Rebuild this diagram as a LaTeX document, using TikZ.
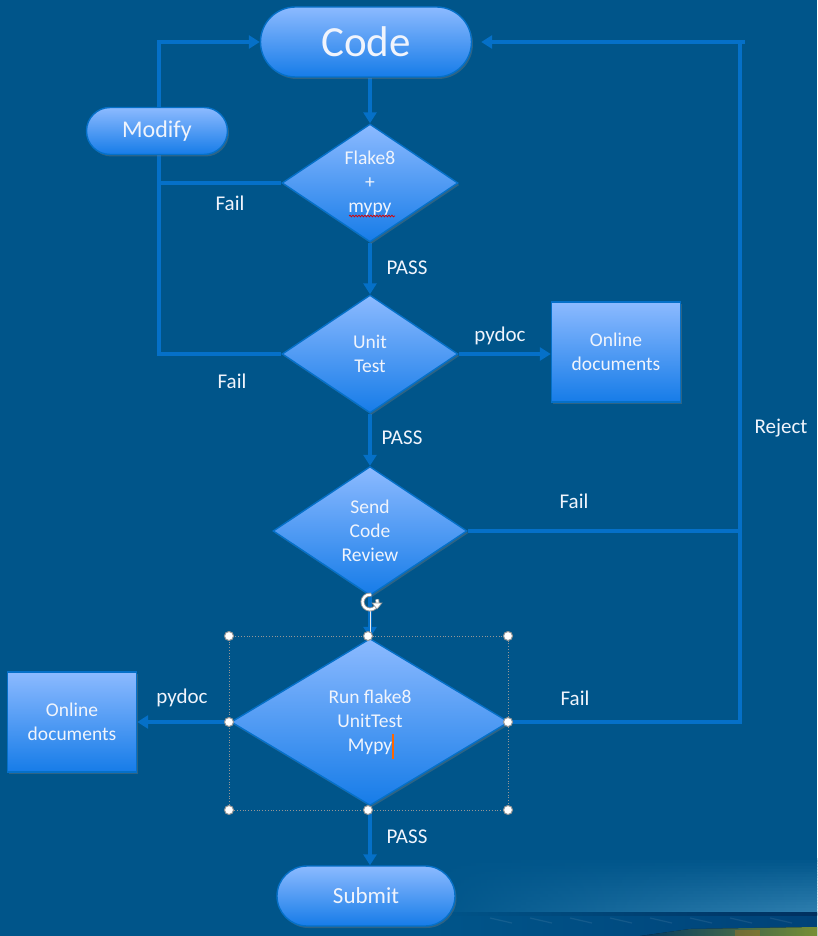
\documentclass[tikz,border=0pt]{standalone}
\usepackage{fontspec}
\setmainfont{Carlito}
\usetikzlibrary{arrows.meta,shapes.geometric,shadows,decorations.pathmorphing}

\definecolor{bgc}{RGB}{0,85,138}
\definecolor{bglight}{RGB}{48,128,176}
\definecolor{bgdark}{RGB}{0,66,120}
\definecolor{bgline}{RGB}{0,48,95}
\definecolor{strip}{RGB}{150,175,60}
\definecolor{linec}{RGB}{5,112,200}
\definecolor{topc}{RGB}{140,186,255}
\definecolor{botc}{RGB}{22,124,232}
\definecolor{txt}{RGB}{240,244,252}
\definecolor{handle}{RGB}{150,150,150}

\pgfdeclarelayer{bg}
\pgfdeclarelayer{lines}
\pgfsetlayers{bg,lines,main}

\tikzset{
  box/.style={draw=linec, line width=1.4pt, top color=topc, bottom color=botc,
    text=txt, align=center,
    drop shadow={opacity=0.35, shadow xshift=1.5pt, shadow yshift=-2pt}},
  term/.style={box, rectangle},
  dia/.style={box, diamond, inner sep=0pt, aspect=1.5,
    font=\fontsize{19.5}{24}\selectfont},
  doc/.style={box, rectangle, font=\fontsize{19.5}{24}\selectfont},
  flow/.style={draw=linec, line width=3.5pt},
  arr/.style={flow, -{Triangle[length=11pt,width=13pt]}},
  lbl/.style={text=txt, font=\fontsize{21}{24}\selectfont, inner sep=0pt},
  handlept/.style={circle, fill=white, draw=handle, line width=1pt, inner sep=0pt, minimum size=9pt},
}

\begin{document}
\begin{tikzpicture}[x=1pt, y=-1pt]
% page background
\begin{pgfonlayer}{bg}
  \fill[bgc] (0,0) rectangle (817,936);
  \useasboundingbox (0,0) rectangle (817,936);
  % soft light sweep near the bottom right, built from thin strips
  \foreach \i in {0,...,19} {
    \pgfmathtruncatemacro{\mix}{\i*5}
    \fill[left color=bgc, right color=bglight!\mix!bgc] (430,{858+2.8*\i}) rectangle (817,{861+2.8*\i});
  }
  % darker horizon band with faint streaks
  \fill[left color=bgc, right color=bgdark] (430,913) rectangle (817,936);
  \fill[left color=bgc, right color=bgline] (430,912.5) rectangle (817,915);
  \foreach \sx in {490,530,570,610,650,690,730,770}
    \draw[white, opacity=0.08, line width=1.2pt] (\sx,918) -- ++(22,5);
  \fill[left color=bgdark, right color=strip, opacity=0.8] (640,936) -- (690,929) -- (817,927) -- (817,936) -- cycle;
  \fill[orange, opacity=0.25] (735,930) rectangle (760,936);
\end{pgfonlayer}

% flow chart nodes
\node[term, minimum width=211pt, minimum height=70pt, rounded corners=35pt,
  font=\fontsize{43}{48}\selectfont] (code) at (366,42) {Code};
\node[term, minimum width=141pt, minimum height=47pt, rounded corners=23.5pt,
  font=\fontsize{24}{28}\selectfont] (modify) at (157,131) {Modify};
\node[dia, minimum width=176pt, minimum height=118pt] (fl) at (370,183) {Flake8\\+\\mypy};
\node[dia, minimum width=176pt, minimum height=118pt] (ut) at (370,354) {Unit\\Test};
\node[doc, minimum width=129pt, minimum height=100pt] (docR) at (616,352) {Online\\documents};
\node[dia, minimum width=194pt, minimum height=129pt] (scr) at (370,531) {Send\\Code\\Review};
\node[dia, minimum width=278pt, minimum height=167pt] (run) at (370,722) {Run flake8\\UnitTest\\Mypy};
\node[doc, minimum width=129pt, minimum height=100pt] (docL) at (72,722) {Online\\documents};
\node[term, minimum width=178pt, minimum height=60pt, rounded corners=30pt,
  font=\fontsize{23}{28}\selectfont] (sub) at (366,896) {Submit};

% routing columns for the loops
\coordinate (lx) at (159,42);
\coordinate (rx) at (740,42);
\coordinate (rtop) at (745,42);

% connectors
\begin{pgfonlayer}{lines}
  \draw[arr] (code.south -| fl.north) -- (fl.north);
  \draw[arr] (fl.south) -- (ut.north);
  \draw[arr] (ut.south) -- (scr.north);
  \draw[arr] (scr.south) -- (run.north);
  \draw[arr] (run.south) -- (run.south |- sub.north);
  \draw[arr] (ut.east) -- (ut.east -| docR.west);
  \draw[arr] (run.west) -- (run.west -| docL.east);
  \draw[flow] (fl.west) -- (fl.west -| lx);
  \draw[arr] (ut.west) -- (ut.west -| lx) |- (code.west);
  \draw[flow] (scr.east) -- (scr.east -| rx);
  \draw[arr, shorten >=9pt] (run.east) -- (run.east -| rx) |- (code.east);
  \draw[flow] (rx) -- (rtop);
\end{pgfonlayer}

% connector labels
\node[lbl] (fail1) at (230,203) {Fail};
\node[lbl] (fail2) at (232,381) {Fail};
\node[lbl] (pass1) at (407,268) {PASS};
\node[lbl] (pydoc1) at (500,336) {pydoc};
\node[lbl] (pass2) at (402,438) {PASS};
\node[lbl] (fail3) at (574,501) {Fail};
\node[lbl] (reject) at (781,428) {Reject};
\node[lbl] (fail4) at (575,698) {Fail};
\node[lbl] (pydoc2) at (182,698) {pydoc};
\node[lbl] (pass3) at (407,837) {PASS};

% spelling squiggle under "mypy"
\draw[red!85!black, line width=0.7pt, decorate,
  decoration={snake, amplitude=0.9pt, segment length=3pt}] (349,216) -- (395,216);

% text cursor after "Mypy"
\draw[orange!80!red, line width=1.2pt] (393,734) -- (393,759);

% selection frame with handles
\draw[handle, line width=0.8pt, dotted] (229,636) rectangle (508,810);
\draw[white!80!handle, line width=0.8pt] (370,609) -- (370,636);
\foreach \px/\py in {229/636, 368/636, 508/636, 229/722, 508/722, 229/810, 368/810, 508/810}
  \node[handlept] at (\px,\py) {};

% rotation handle
\draw[handle, line width=4pt] (370,602) ++(-20:7.5) arc (-20:280:7.5);
\draw[white, line width=2.2pt] (370,602) ++(-20:7.5) arc (-20:280:7.5);
\fill[white, draw=handle, line width=0.6pt] (372,603) -- (382,603) -- (377,609) -- cycle;
\end{tikzpicture}
\end{document}
